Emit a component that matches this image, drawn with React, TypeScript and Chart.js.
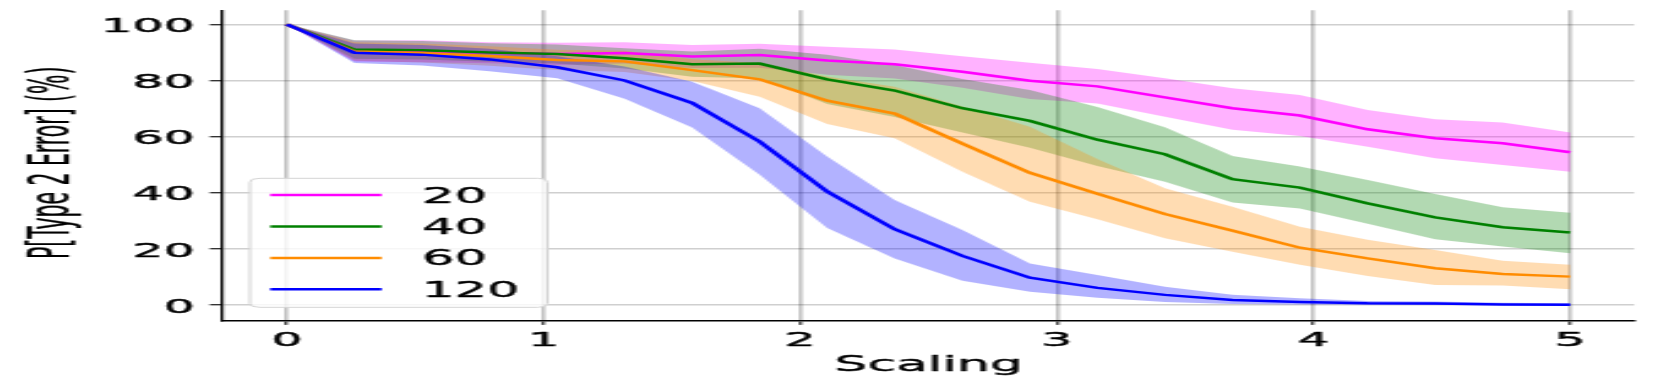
import React, { useEffect, useRef } from 'react';
import { Chart, registerables } from 'chart.js';

Chart.register(...registerables);

const FONT = '"DejaVu Sans", sans-serif';

// x positions (Scaling)
const scaling = [0, 0.263, 0.526, 0.789, 1.053, 1.316, 1.579, 1.842, 2.105, 2.368, 2.632, 2.895, 3.158, 3.421, 3.684, 3.947, 4.211, 4.474, 4.737, 5];

const seriesLabels = ['20', '40', '60', '120'];
const lineColors = ['#ff00ff', '#008000', '#ff8c00', '#0000ff'];
const bandColors = ['rgba(255,0,255,0.3)', 'rgba(0,128,0,0.3)', 'rgba(255,140,0,0.3)', 'rgba(0,0,255,0.3)'];

const mean20 = [100, 90.6, 90.4, 89.9, 89.4, 89.8, 88.5, 89.1, 87.1, 85.8, 83.1, 79.9, 77.9, 74.0, 70.1, 67.5, 62.6, 59.4, 57.6, 54.4];
const upper20 = [100, 94.2, 94.3, 93.6, 93.4, 93.6, 92.6, 93.1, 92.0, 91.0, 88.6, 86.3, 84.1, 80.8, 77.2, 74.8, 69.5, 66.2, 65.0, 61.5];
const lower20 = [100, 86.8, 86.5, 86.1, 85.5, 86.0, 84.4, 84.5, 82.0, 80.7, 77.4, 73.4, 71.8, 67.1, 62.4, 60.2, 56.4, 52.3, 49.9, 47.5];

const mean40 = [100, 91.0, 90.8, 90.0, 89.4, 87.9, 85.8, 86.0, 80.4, 76.4, 70.1, 65.6, 58.9, 53.7, 44.8, 41.8, 36.2, 31.2, 27.7, 25.8];
const upper40 = [100, 94.3, 94.1, 93.3, 92.8, 91.5, 90.3, 91.3, 89.2, 85.5, 80.5, 76.6, 70.5, 63.3, 53.1, 49.3, 44.5, 39.5, 34.8, 32.9];
const lower40 = [100, 87.7, 87.5, 86.7, 86.0, 84.3, 81.3, 80.7, 71.6, 67.0, 61.5, 56.0, 49.5, 43.9, 36.5, 34.4, 28.9, 23.4, 20.8, 18.4];

const mean60 = [100, 90.3, 89.8, 88.7, 87.3, 86.8, 83.7, 80.4, 72.8, 68.2, 57.5, 47.1, 39.6, 32.4, 26.5, 20.4, 16.6, 13.1, 11.0, 10.1];
const upper60 = [100, 93.6, 93.2, 92.2, 90.9, 90.6, 87.6, 86.2, 81.4, 77.8, 70.7, 63.5, 52.0, 41.6, 35.0, 27.9, 23.2, 19.6, 15.8, 14.3];
const lower60 = [100, 87.0, 86.4, 85.2, 83.7, 83.0, 79.8, 74.2, 64.5, 59.4, 47.5, 36.8, 30.5, 23.8, 19.0, 14.3, 10.3, 7.1, 6.9, 5.6];

const mean120 = [100, 89.9, 89.2, 87.5, 84.7, 80.0, 72.0, 58.2, 40.4, 27.0, 17.5, 9.7, 6.1, 3.6, 1.8, 1.1, 0.6, 0.5, 0.2, 0.1];
const upper120 = [100, 93.2, 92.6, 91.3, 88.6, 85.0, 79.5, 70.1, 52.9, 37.4, 26.7, 14.8, 10.7, 6.5, 3.6, 2.4, 1.4, 1.2, 0.8, 0.6];
const lower120 = [100, 86.2, 85.3, 83.3, 80.8, 73.5, 63.2, 46.4, 27.4, 16.6, 8.6, 4.7, 2.6, 1.1, 0.3, 0.2, 0.1, 0.0, 0.0, -0.2];

const means = [mean20, mean40, mean60, mean120];
const uppers = [upper20, upper40, upper60, upper120];
const lowers = [lower20, lower40, lower60, lower120];

const xTicks = [0, 1, 2, 3, 4, 5];
const yTicks = [0, 20, 40, 60, 80, 100];
const xTitle = 'Scaling';
const yTitle = 'P[Type 2 Error] (%)';

// canvas drawn narrow, then stretched horizontally like the reference
const CW = 678;
const CH = 388;
const DW = 1661;
const TICK_STROKE = 0.45;
const LABEL_STROKE = 0.35;

const toPts = (arr: number[]) => scaling.map((x, i) => ({ x, y: arr[i] }));

const drawText = (ctx: CanvasRenderingContext2D, text: string, x: number, y: number, stroke: number) => {
  ctx.fillText(text, x, y);
  if (stroke > 0) {
    ctx.lineWidth = stroke;
    ctx.strokeText(text, x, y);
  }
};

const titlePlugin = {
  id: 'axisTitles',
  afterDraw(chart: any) {
    const { ctx, chartArea } = chart;
    ctx.save();
    ctx.fillStyle = '#000';
    ctx.strokeStyle = '#000';
    ctx.lineJoin = 'round';
    ctx.textAlign = 'center';
    ctx.textBaseline = 'middle';
    // x title
    ctx.font = `21.3px ${FONT}`;
    drawText(ctx, xTitle, (chartArea.left + chartArea.right) / 2, CH - 9.3 - 12.78, LABEL_STROKE);
    // y title
    ctx.font = `20.4px ${FONT}`;
    ctx.translate(22.2, (chartArea.top + chartArea.bottom) / 2 - 2.5);
    ctx.rotate(-Math.PI / 2);
    ctx.scale(1, 1.17);
    drawText(ctx, yTitle, 0, 0, 0.2);
    ctx.restore();
  },
};

const legendPlugin = {
  id: 'boxLegend',
  afterDatasetsDraw(chart: any) {
    const { ctx, chartArea } = chart;
    const left = chartArea.left + 11.1;
    const w = 121.5;
    const h = 129;
    const bottom = chartArea.bottom - 13.1;
    const top = bottom - h;
    const r = 4;
    ctx.save();
    ctx.beginPath();
    ctx.moveTo(left + r, top);
    ctx.lineTo(left + w - r, top);
    ctx.arcTo(left + w, top, left + w, top + r, r);
    ctx.lineTo(left + w, top + h - r);
    ctx.arcTo(left + w, top + h, left + w - r, top + h, r);
    ctx.lineTo(left + r, top + h);
    ctx.arcTo(left, top + h, left, top + h - r, r);
    ctx.lineTo(left, top + r);
    ctx.arcTo(left, top, left + r, top, r);
    ctx.closePath();
    ctx.fillStyle = 'rgba(255,255,255,0.8)';
    ctx.fill();
    ctx.strokeStyle = '#d4d4d4';
    ctx.lineWidth = 1;
    ctx.stroke();
    const fs = 20.8;
    ctx.font = `${fs}px ${FONT}`;
    ctx.textAlign = 'left';
    ctx.textBaseline = 'alphabetic';
    ctx.lineJoin = 'round';
    seriesLabels.forEach((lab, i) => {
      const y = top + 16.7 + i * 31.45;
      ctx.beginPath();
      ctx.moveTo(left + 8.3, y);
      ctx.lineTo(left + 53.8, y);
      ctx.strokeStyle = lineColors[i];
      ctx.lineWidth = 2.5;
      ctx.stroke();
      ctx.fillStyle = '#000';
      ctx.strokeStyle = '#000';
      drawText(ctx, lab, left + 70.3, y + 0.3645 * fs, LABEL_STROKE);
    });
    ctx.restore();
  },
};

export default function App() {
  const ref = useRef<HTMLCanvasElement | null>(null);

  useEffect(() => {
    document.body.style.margin = '0';
    const canvas = ref.current!;
    canvas.width = CW;
    canvas.height = CH;
    canvas.style.width = DW + 'px';
    canvas.style.height = CH + 'px';

    const datasets: any[] = [];
    // bands: upper (filled to lower) and lower
    for (let k = 0; k < 4; k++) {
      datasets.push({
        label: 'upper' + seriesLabels[k],
        data: toPts(uppers[k]),
        borderWidth: 0,
        borderColor: 'rgba(0,0,0,0)',
        backgroundColor: bandColors[k],
        pointRadius: 0,
        fill: 2 * k + 1,
        order: 20 - k,
      });
      datasets.push({
        label: 'lower' + seriesLabels[k],
        data: toPts(lowers[k]),
        borderWidth: 0,
        borderColor: 'rgba(0,0,0,0)',
        backgroundColor: 'rgba(0,0,0,0)',
        pointRadius: 0,
        fill: false,
        order: 30,
      });
    }
    for (let k = 0; k < 4; k++) {
      datasets.push({
        label: seriesLabels[k],
        data: toPts(means[k]),
        borderColor: lineColors[k],
        borderWidth: 2.5,
        pointRadius: 0,
        fill: false,
        tension: 0,
        order: 3 - k,
      });
    }

    const tickFont = { family: FONT, size: 20 };

    const chart = new Chart(canvas, {
      type: 'line',
      data: { datasets },
      plugins: [legendPlugin, titlePlugin],
      options: {
        responsive: false,
        animation: false,
        devicePixelRatio: 1,
        events: [],
        layout: {
          autoPadding: false,
          padding: { left: 0, top: 10.3, right: CW - 667.1, bottom: 0 },
        },
        plugins: {
          legend: { display: false },
          tooltip: { enabled: false },
          title: { display: false },
        },
        scales: {
          x: {
            type: 'linear',
            position: 'bottom',
            min: -0.25,
            max: 5.25,
            afterBuildTicks: (axis: any) => {
              axis.ticks = xTicks.map((v) => ({ value: v }));
            },
            afterFit: (axis: any) => {
              axis.height = CH - 320.4;
              axis.paddingLeft = 0;
              axis.paddingRight = 0;
              axis.paddingTop = 0;
              axis.paddingBottom = 0;
            },
            grid: {
              color: 'rgba(0,0,0,0.24)',
              lineWidth: 1.6,
              tickColor: '#000',
              tickWidth: 1,
              tickLength: 4.5,
              drawTicks: true,
            },
            border: { display: true, color: '#000', width: 1.6 },
            ticks: {
              autoSkip: false,
              maxRotation: 0,
              padding: 3.4,
              color: '#000',
              textStrokeColor: '#000',
              textStrokeWidth: TICK_STROKE,
              font: tickFont,
            },
            title: { display: false },
          },
          y: {
            type: 'linear',
            position: 'left',
            min: -5.5,
            max: 105,
            afterBuildTicks: (axis: any) => {
              axis.ticks = yTicks.map((v) => ({ value: v }));
            },
            afterFit: (axis: any) => {
              axis.width = 90.9;
              axis.paddingLeft = 0;
              axis.paddingRight = 0;
              axis.paddingTop = 0;
              axis.paddingBottom = 0;
            },
            grid: {
              color: 'rgba(0,0,0,0.19)',
              lineWidth: 1.5,
              tickColor: '#000',
              tickWidth: 1.1,
              tickLength: 5.3,
              drawTicks: true,
            },
            border: { display: true, color: '#000', width: 1.2 },
            ticks: {
              autoSkip: false,
              padding: 6.1,
              labelOffset: 2.5,
              color: '#000',
              textStrokeColor: '#000',
              textStrokeWidth: TICK_STROKE,
              font: tickFont,
            },
            title: { display: false },
          },
        },
      } as any,
    });

    return () => {
      chart.destroy();
    };
  }, []);

  return (
    <div style={{ width: DW, height: CH, overflow: 'hidden' }}>
      <canvas ref={ref} style={{ display: 'block' }} />
    </div>
  );
}
